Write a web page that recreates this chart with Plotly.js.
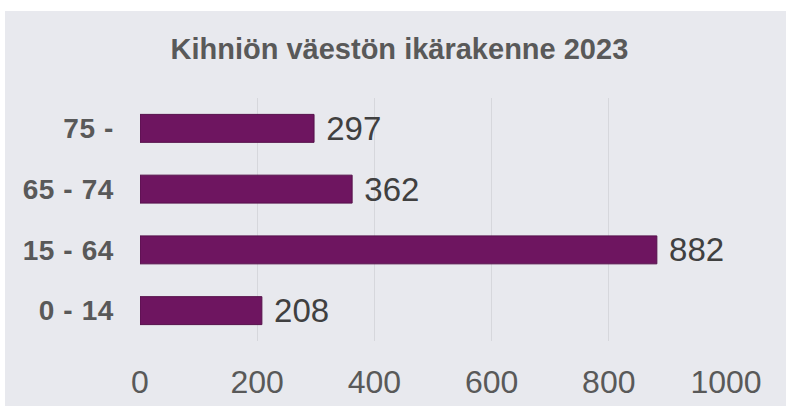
<!DOCTYPE html>
<html>
<head>
<meta charset="utf-8">
<script src="https://cdn.plot.ly/plotly-3.0.1.min.js"></script>
<style>
  html, body { margin: 0; padding: 0; background: #ffffff; width: 786px; height: 406px; overflow: hidden; }
  #chart { position: absolute; left: 5px; top: 11px; width: 781px; height: 395px; }
  #chart .ytick text { letter-spacing: 0.6px; }
</style>
</head>
<body>
<div id="chart"></div>
<script>
const categories = ["0 - 14", "15 - 64", "65 - 74", "75 -"];
const values = [208, 882, 362, 297];
const tickValues = [0, 200, 400, 600, 800, 1000];
const titleText = "Kihniön väestön ikärakenne 2023";

const trace = {
  type: "bar",
  orientation: "h",
  y: categories,
  x: values,
  text: values.map(v => "\u00a0" + v),
  textposition: "outside",
  constraintext: "none",
  cliponaxis: false,
  textfont: { family: "Liberation Sans, Arial, sans-serif", size: 33, color: "#404040" },
  marker: { color: "#6E1560", line: { color: "#55104A", width: 1 } },
  hoverinfo: "none"
};

const layout = {
  width: 781,
  height: 395,
  paper_bgcolor: "#E8E9EE",
  plot_bgcolor: "#E8E9EE",
  margin: { l: 135, r: 60, t: 87, b: 65 },
  bargap: 0.54,
  showlegend: false,
  title: {
    text: "<b>" + titleText + "</b>",
    font: { family: "Liberation Sans, Arial, sans-serif", size: 29, color: "#595959" },
    x: 0.505, xanchor: "center",
    y: 0.905, yanchor: "middle"
  },
  xaxis: {
    range: [0, 1000],
    tickvals: tickValues,
    ticktext: tickValues.map(String),
    showgrid: true,
    gridcolor: "#D6D7DC",
    gridwidth: 1,
    zeroline: false,
    showline: false,
    ticks: "",
    ticklabelstandoff: 19,
    tickfont: { family: "Liberation Sans, Arial, sans-serif", size: 32, color: "#595959" },
    fixedrange: true
  },
  yaxis: {
    type: "category",
    categoryorder: "array",
    categoryarray: categories,
    showgrid: false,
    zeroline: false,
    showline: false,
    ticks: "",
    ticklabelstandoff: 25,
    tickfont: { family: "Liberation Sans, Arial, sans-serif", size: 28, color: "#595959", weight: "bold" },
    fixedrange: true
  }
};

Plotly.newPlot("chart", [trace], layout, { displayModeBar: false, staticPlot: true });
</script>
</body>
</html>
